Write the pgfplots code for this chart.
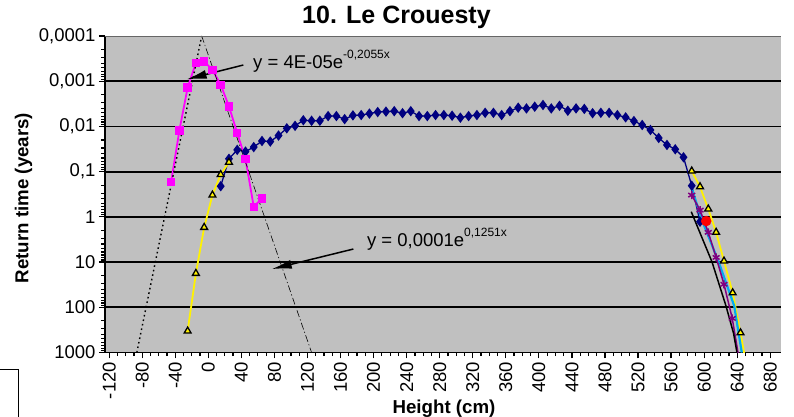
\documentclass[border=0pt]{standalone}
\usepackage{fontspec}
\setmainfont{Liberation Sans}
\usepackage{pgfplots}
\pgfplotsset{compat=1.18}
\usetikzlibrary{arrows.meta}
\definecolor{navy}{HTML}{000080}
\definecolor{magen}{HTML}{FF00FF}
\definecolor{purp}{HTML}{800080}
\definecolor{plotgrey}{HTML}{C0C0C0}
\newcommand{\tf}{\fontsize{18.5}{20}\selectfont}
\begin{document}
\begin{tikzpicture}
\begin{axis}[
  scale only axis,
  width=676pt, height=316.5pt,
  xmin=-125, xmax=693,
  ymode=log, ymin=1e-4, ymax=1000, y dir=reverse,
  axis background/.style={fill=plotgrey},
  axis x line*=bottom, axis y line*=left,
  axis line style={black, line width=1.6pt, -},
  xtick={-120,-80,...,680},
  xticklabels={-120,-80,-40,0,40,80,120,160,200,240,280,320,360,400,440,480,520,560,600,640,680},
  minor x tick num=3,
  ytick={1e-4,1e-3,1e-2,1e-1,1,10,100,1000},
  yticklabels={{0,0001},{0,001},{0,01},{0,1},1,10,100,1000},
  extra y ticks={1e-3,1e-2,1e-1,1,10,100},
  extra y tick labels={},
  extra y tick style={grid=major, major tick length=0pt},
  major grid style={black, line width=1.8pt},
  tick align=outside,
  major tick length=6pt, minor tick length=3.5pt,
  every tick/.style={black, line width=1.2pt},
  ticklabel style={font=\tf},
  xticklabel style={rotate=90, anchor=east},
  clip=true,
]
% blue diamonds
\addplot[navy, line width=1.3pt, mark=diamond*, mark size=4.2pt, mark options={fill=navy, draw=navy}] coordinates {
(15,0.21)(25,0.052)(35,0.033)(45,0.036)(55,0.0286)(65,0.021)(75,0.0216)(85,0.0159)
(95,0.011)(105,0.0097)(115,0.0073)(125,0.0075)(135,0.0075)(145,0.0059)(155,0.0059)
(165,0.0069)(175,0.0057)(185,0.0056)(195,0.0052)(205,0.0048)(215,0.0047)(225,0.0046)
(235,0.0051)(245,0.0046)(255,0.0059)(265,0.0059)(275,0.0056)(285,0.0056)(295,0.0058)
(305,0.0064)(315,0.0059)(325,0.0056)(335,0.0050)(345,0.0050)(355,0.0056)(365,0.0046)
(375,0.00385)(385,0.0040)(395,0.00366)(405,0.00336)(415,0.0040)(425,0.0035)(435,0.0045)
(445,0.0040)(455,0.0041)(465,0.0051)(475,0.0050)(485,0.0050)(495,0.0056)(505,0.0063)
(515,0.0076)(525,0.0093)(535,0.012)(545,0.018)(555,0.0257)(565,0.032)(575,0.048)
(585,0.205)(595,1.28)};
% yellow left
\addplot[yellow, line width=1.8pt, mark=triangle*, mark size=4pt, mark options={fill=yellow, draw=black, line width=1.3pt}] coordinates {
(-25,336)(-15,17.8)(-5,1.71)(5,0.33)(15,0.116)(25,0.062)};
% yellow right
\addplot[yellow, line width=1.8pt, mark=triangle*, mark size=4pt, mark options={fill=yellow, draw=black, line width=1.3pt}] coordinates {
(585,0.097)(595,0.216)(605,0.67)(614.5,2.2)(624,9.5)(634.5,47.8)(644,367)(653,3000)};
% cyan
\addplot[cyan, line width=2.2pt, no markers] coordinates {
(585.2,0.24)(597.3,1.17)(617.4,9.8)(636.4,93)(645.5,1000)};
% purple
\addplot[purp, line width=1.5pt, mark=asterisk, mark size=4pt, mark options={line width=1.5pt}] coordinates {
(585,0.33)(595,0.71)(605,2.2)(614.5,7.9)(624,31)(634,176)(645,2800)};
% black
\addplot[black, line width=1.5pt, no markers] coordinates {
(584.4,0.77)(609.4,9.8)(626.4,93)(635.6,378)(639.7,1000)};
% pink
\addplot[magen, line width=1.8pt, mark=square*, mark size=3.3pt, mark options={fill=magen, draw=magen}] coordinates {
(-45,0.17)(-35,0.0123)(-25,0.00138)(-15,0.00039)(-5,0.00037)(5,0.00056)(15,0.0012)
(25,0.0036)(35,0.014)(45,0.052)(55,0.6)(65,0.39)};
% red
\addplot[only marks, red, mark=*, mark size=5pt] coordinates {(602.5,1.24)};
% trendlines
\addplot[black, line width=1.4pt, dash pattern=on 1.6pt off 3pt, no markers] coordinates {(-86.5,1000)(-8,1e-4)};
\addplot[black, line width=0.6pt, dash pattern=on 7pt off 2.5pt on 1.2pt off 2.5pt, no markers] coordinates {(-8,1e-4)(125,1000)};
% annotations
\draw[-{Latex[length=20pt,width=9pt]}, line width=1.5pt] (axis cs:42.4,4.38e-4) -- (axis cs:-26.2,9.08e-4);
\draw[-{Latex[length=20pt,width=9pt]}, line width=1.5pt] (axis cs:175.5,5.15) -- (axis cs:76.8,14.3);
\node[anchor=base west, inner sep=0pt, font=\tf] at (axis cs:54.1,5.19e-4) {y = 4E-05e\raisebox{0.55em}{\fontsize{12}{12}\selectfont -0,2055x}};
\node[anchor=base west, inner sep=0pt, font=\tf] at (axis cs:191.8,4.58) {y = 0,0001e\raisebox{0.55em}{\fontsize{12}{12}\selectfont 0,1251x}};
\draw[black!60, line width=0.8pt] (axis cs:-125,1e-4) -- (axis cs:693,1e-4);
\coordinate (BL) at (axis cs:-125,1000);
\end{axis}
\coordinate (O) at ([shift={(-105pt,352.5pt)}]BL);
\coordinate (E) at ([shift={(689pt,-64.5pt)}]BL);
\begin{scope}[shift={(O)}, x=1pt, y=-1pt]
\node[anchor=west, inner sep=0pt, font=\bfseries\fontsize{25}{28}\selectfont] at (302,17) {10. Le Crouesty};
\node[rotate=90, font=\bfseries\fontsize{18.7}{20}\selectfont] at (23.5,198) {Return time (years)};
\node[anchor=base, inner sep=0pt, font=\bfseries\fontsize{18.7}{20}\selectfont] at (444,413.6) {Height (cm)};
\draw[black, line width=1pt] (-5,370) -- (19,370) -- (19,425);
\end{scope}
\pgfresetboundingbox
\path[use as bounding box] (O) rectangle (E);
\end{tikzpicture}
\end{document}
